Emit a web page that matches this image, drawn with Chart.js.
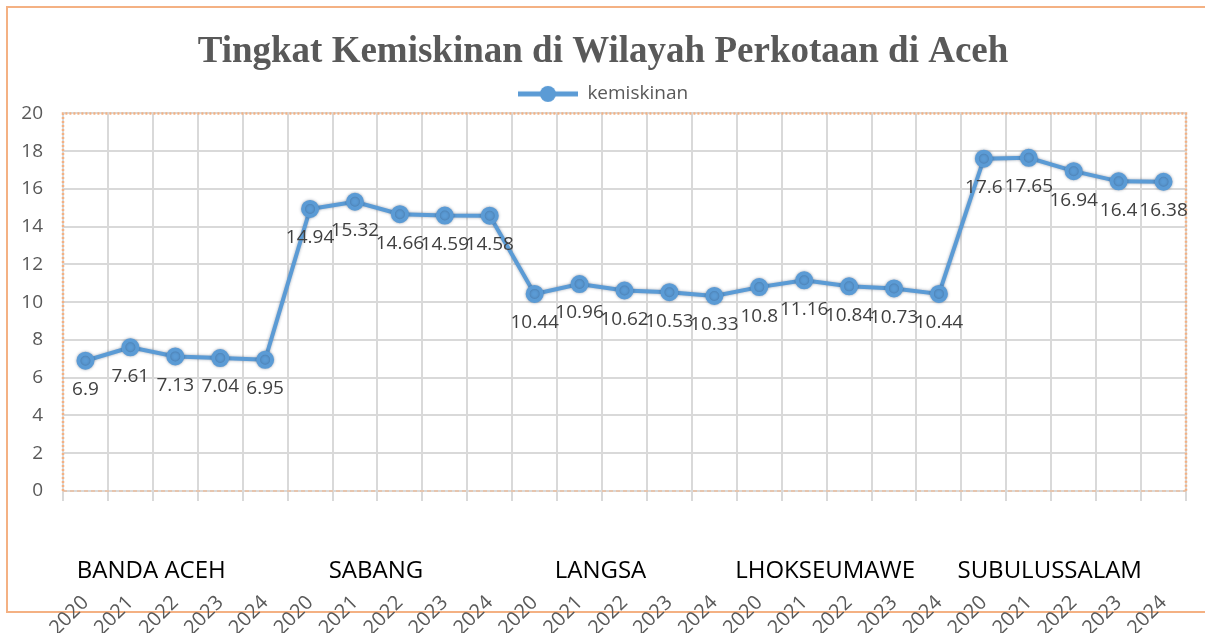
<!DOCTYPE html>
<html>
<head>
<meta charset="utf-8">
<script src="https://cdn.jsdelivr.net/npm/chart.js@4"></script>
<style>
  body { margin: 0; background: #fff; }
  canvas { display: block; }
</style>
</head>
<body>
<canvas id="chart" width="1205" height="633"></canvas>
<script>
const cities = ['BANDA ACEH', 'SABANG', 'LANGSA', 'LHOKSEUMAWE', 'SUBULUSSALAM'];
const years = ['2020', '2021', '2022', '2023', '2024'];
const bandaAceh = [6.9, 7.61, 7.13, 7.04, 6.95];
const sabang = [14.94, 15.32, 14.66, 14.59, 14.58];
const langsa = [10.44, 10.96, 10.62, 10.53, 10.33];
const lhokseumawe = [10.8, 11.16, 10.84, 10.73, 10.44];
const subulussalam = [17.6, 17.65, 16.94, 16.4, 16.38];
const yTicks = [0, 2, 4, 6, 8, 10, 12, 14, 16, 18, 20];

const labels = [];
cities.forEach(() => years.forEach(y => labels.push(y)));
const values = [...bandaAceh, ...sabang, ...langsa, ...lhokseumawe, ...subulussalam];

const blue = '#5B9BD5';
const orange = '#F4B183';

// legend marker: line with a dot in the middle
const marker = document.createElement('canvas');
marker.width = 60;
marker.height = 20;
const mctx = marker.getContext('2d');
mctx.strokeStyle = blue;
mctx.lineWidth = 5;
mctx.beginPath();
mctx.moveTo(0, 10);
mctx.lineTo(60, 10);
mctx.stroke();
mctx.fillStyle = blue;
mctx.beginPath();
mctx.arc(30, 10, 8, 0, Math.PI * 2);
mctx.fill();

const frame = {
  id: 'frame',
  beforeDraw(chart) {
    const ctx = chart.ctx;
    ctx.save();
    ctx.strokeStyle = orange;
    ctx.lineWidth = 2;
    ctx.beginPath();
    ctx.moveTo(1210, 7);
    ctx.lineTo(7, 7);
    ctx.lineTo(7, 612);
    ctx.lineTo(1210, 612);
    ctx.stroke();
    ctx.restore();
  },
  beforeDatasetsDraw(chart) {
    const ctx = chart.ctx;
    const a = chart.chartArea;
    ctx.save();
    ctx.strokeStyle = orange;
    ctx.lineWidth = 2.5;
    ctx.setLineDash([2, 2]);
    ctx.beginPath();
    ctx.moveTo(a.left, a.bottom);
    ctx.lineTo(a.left, a.top);
    ctx.lineTo(a.right, a.top);
    ctx.lineTo(a.right, a.bottom);
    ctx.stroke();
    ctx.lineWidth = 1.2;
    ctx.setLineDash([4, 3]);
    ctx.beginPath();
    ctx.moveTo(a.left, a.bottom);
    ctx.lineTo(a.right, a.bottom);
    ctx.stroke();
    ctx.restore();
    ctx.save();
    ctx.shadowColor = 'rgba(40,60,90,0.45)';
    ctx.shadowBlur = 3;
  },
  afterDatasetsDraw(chart) {
    const ctx = chart.ctx;
    ctx.restore();
    ctx.save();
    const meta = chart.getDatasetMeta(0);
    ctx.font = '19px "Open Sans", sans-serif';
    ctx.fillStyle = '#404040';
    ctx.textAlign = 'center';
    ctx.textBaseline = 'middle';
    meta.data.forEach((pt, i) => {
      ctx.fillText(String(values[i]), pt.x, pt.y + 29);
    });
    // city group labels
    const x = chart.scales.x;
    ctx.font = '24px "Open Sans", sans-serif';
    ctx.fillStyle = '#000';
    cities.forEach((c, g) => {
      const cx = (x.getPixelForValue(g * 5) + x.getPixelForValue(g * 5 + 4)) / 2 - 24;
      ctx.fillText(c, cx, 571);
    });
    ctx.restore();
  }
};

new Chart(document.getElementById('chart'), {
  type: 'line',
  data: {
    labels: labels,
    datasets: [{
      label: 'kemiskinan',
      data: values,
      borderColor: blue,
      backgroundColor: blue,
      borderWidth: 4,
      pointRadius: 7,
      pointBackgroundColor: blue,
      pointBorderColor: blue,
      tension: 0
    }]
  },
  options: {
    responsive: false,
    animation: false,
    layout: { padding: { left: 20, right: 19, top: 0, bottom: 0 } },
    plugins: {
      title: {
        display: true,
        text: 'Tingkat Kemiskinan di Wilayah Perkotaan di Aceh',
        color: '#595959',
        font: { family: '"Liberation Serif", "Times New Roman", serif', size: 37, weight: 'bold' },
        padding: { top: 30, bottom: 0 }
      },
      legend: {
        display: true,
        labels: {
          color: '#595959',
          font: { family: '"Open Sans", sans-serif', size: 19 },
          usePointStyle: true,
          pointStyleWidth: 60,
          padding: 10,
          generateLabels(chart) {
            const items = Chart.defaults.plugins.legend.labels.generateLabels(chart);
            items.forEach(it => { it.pointStyle = marker; });
            return items;
          }
        }
      },
      tooltip: { enabled: false }
    },
    scales: {
      x: {
        offset: true,
        grid: { offset: true, color: '#d9d9d9', lineWidth: 2, tickLength: 10, drawTicks: true },
        border: { display: false },
        ticks: {
          color: '#595959',
          font: { family: '"Open Sans", sans-serif', size: 20 },
          minRotation: 45,
          maxRotation: 45,
          autoSkip: false,
          padding: 90
        },
        afterFit(scale) {
          scale.height = 142;
          scale.paddingLeft = 0;
          scale.paddingRight = 0;
        }
      },
      y: {
        min: 0,
        max: 20,
        afterBuildTicks(scale) { scale.ticks = yTicks.map(v => ({ value: v })); },
        grid: { color: '#d9d9d9', lineWidth: 2, drawTicks: false },
        border: { display: false },
        ticks: {
          color: '#595959',
          font: { family: '"Open Sans", sans-serif', size: 19 },
          padding: 20
        },
        afterFit(scale) { scale.width = 43; }
      }
    }
  },
  plugins: [frame]
});
</script>
</body>
</html>
